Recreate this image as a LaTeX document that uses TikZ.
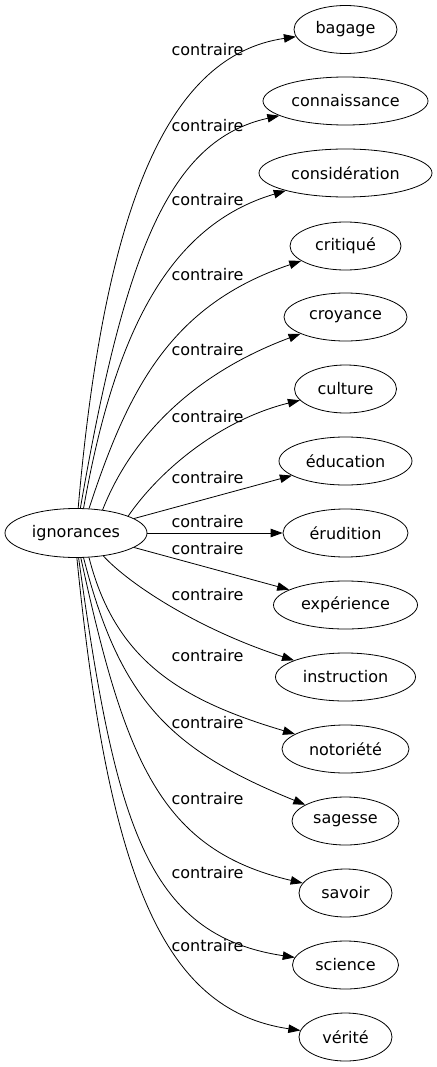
\documentclass[tikz,border=0pt]{standalone}
\usepackage{fontspec}
\setmainfont{DejaVu Sans}
\usetikzlibrary{arrows.meta,shapes.geometric}

\begin{document}
\begin{tikzpicture}[
  x=1pt, y=-1pt,
  font=\fontsize{16}{19}\selectfont,
  >={Triangle[length=12pt, width=8.5pt]},
  term/.style={ellipse, draw=black, line width=0.8pt, inner sep=0pt, minimum height=48pt},
  rel/.style={inner sep=0pt},
  link/.style={->, line width=0.8pt},
]
% ---- geometry ----
\def\xT{345.5}  \def\xL{207.5}
\useasboundingbox (0,0) rectangle (436,1067);

% ---- source word ----
\node[term, minimum width=142pt, minimum height=49pt] (ign) at (76,533) {ignorances};

% ---- opposite words (one column) ----
\foreach \nm/\txt/\ww/\yy in {bagage/bagage/103/29.5, connaissance/connaissance/165/101,
    consideration/considération/173/173, critique/critiqué/111/246, croyance/croyance/123/317,
    culture/culture/102/389, education/éducation/133/461, erudition/érudition/125/533,
    experience/expérience/144/605, instruction/instruction/140/677, notoriete/notoriété/127/749,
    sagesse/sagesse/107/821, savoir/savoir/93/893, science/science/106/965, verite/vérité/93/1037}{
  \node[term, minimum width=\ww pt] (\nm) at (\xT,\yy) {\txt};
}

% ---- edge labels ----
\foreach \yy [count=\i] in {50,126,200,275,350,417,478,522,549,595,656,723,799,873,946}
  \node[rel] (lbl\i) at (\xL,\yy) {contraire};

% ---- edges: upper fan ----
\draw[link] (ign.85) .. controls (105,200) and (170,55) .. (bagage);
\draw[link] (ign.80) .. controls (125,250) and (170,140) .. (connaissance);
\draw[link] (ign.73) .. controls (115,330) and (170,225) .. (consideration);
\draw[link] (ign.62) .. controls (128,390) and (170,305) .. (critique);
\draw[link] (ign.41) .. controls (130,440) and (190,375) .. (croyance);
\draw[link] (ign.18) .. controls (160,470) and (220,420) .. (culture);
% ---- edges: straight ones ----
\draw[link] (ign.14) -- (education);
\draw[link] (ign) -- (erudition);
\draw[link] (ign.-14) -- (experience);
% ---- edges: lower fan ----
\draw[link] (ign.-40) .. controls (130,585) and (200,630) .. (instruction);
\draw[link] (ign.-62) .. controls (115,660) and (180,700) .. (notoriete);
\draw[link] (ign.-73) .. controls (120,700) and (170,750) .. (sagesse);
\draw[link] (ign.-79) .. controls (125,760) and (160,850) .. (savoir);
\draw[link] (ign.-84) .. controls (115,820) and (145,935) .. (science);
\draw[link] (ign.-88) .. controls (108,870) and (160,1010) .. (verite);
\end{tikzpicture}
\end{document}
